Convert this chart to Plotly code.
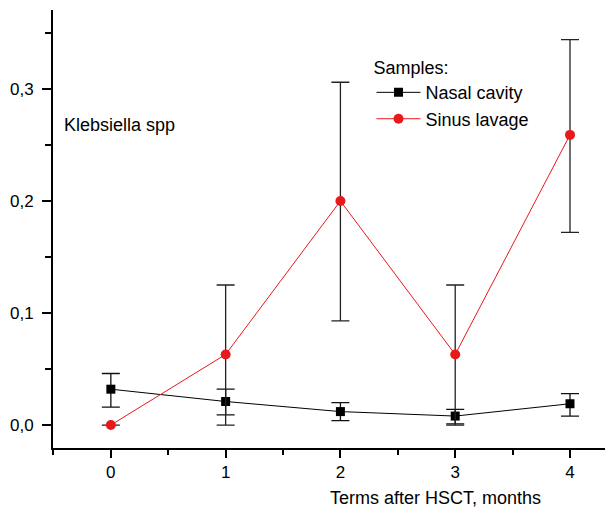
import plotly.graph_objects as go

# Months after HSCT
months = [0, 1, 2, 3, 4]

# Nasal cavity samples: mean and error bounds
nasal_mean = [0.032, 0.021, 0.012, 0.008, 0.019]
nasal_err_plus = [0.014, 0.011, 0.008, 0.006, 0.009]
nasal_err_minus = [0.016, 0.012, 0.008, 0.007, 0.011]

# Sinus lavage samples: mean and error bounds
sinus_mean = [0.0, 0.063, 0.200, 0.063, 0.259]
sinus_err_plus = [0.0, 0.062, 0.106, 0.062, 0.085]
sinus_err_minus = [0.0, 0.063, 0.107, 0.063, 0.087]

y_ticks = [0.0, 0.1, 0.2, 0.3]
x_ticks = [0, 1, 2, 3, 4]

FONT = "Liberation Sans, Arial, sans-serif"

fig = go.Figure()

fig.add_trace(go.Scatter(
    x=months, y=nasal_mean, name="Nasal cavity",
    mode="lines+markers",
    line=dict(color="black", width=1),
    marker=dict(symbol="square", size=9, color="black"),
    error_y=dict(type="data", symmetric=False, array=nasal_err_plus,
                 arrayminus=nasal_err_minus, color="#111111",
                 thickness=1.3, width=9),
))

fig.add_trace(go.Scatter(
    x=months, y=sinus_mean, name="Sinus lavage",
    mode="lines+markers",
    line=dict(color="#e8191c", width=1),
    marker=dict(symbol="circle", size=10, color="#e8191c"),
    error_y=dict(type="data", symmetric=False, array=sinus_err_plus,
                 arrayminus=sinus_err_minus, color="#222222",
                 thickness=1.3, width=9),
))

fig.update_layout(
    width=605, height=509,
    margin=dict(l=53, r=0, t=10, b=61),
    paper_bgcolor="white", plot_bgcolor="white",
    separators=", ",
    font=dict(family=FONT, size=17, color="black"),
    showlegend=True,
    legend=dict(
        title=dict(text="Samples:", font=dict(size=18)),
        x=0.577, y=0.907, xanchor="left", yanchor="top",
        bgcolor="rgba(0,0,0,0)", font=dict(size=18),
        itemwidth=44, tracegroupgap=0,
    ),
    xaxis=dict(
        range=[-0.504, 4.305],
        tickmode="array", tickvals=x_ticks,
        showline=True, linecolor="black", linewidth=2,
        ticks="outside", ticklen=8, tickwidth=2, tickcolor="black",
        minor=dict(dtick=0.5, tick0=0, ticks="outside", ticklen=5,
                   tickwidth=2, tickcolor="black"),
        showgrid=False, zeroline=False,
        tickfont=dict(size=17),
    ),
    yaxis=dict(
        range=[-0.0205, 0.3705],
        tickmode="array", tickvals=y_ticks, tickformat=".1f",
        showline=True, linecolor="black", linewidth=2,
        ticks="outside", ticklen=9, tickwidth=2, tickcolor="black",
        minor=dict(dtick=0.05, tick0=0, ticks="outside", ticklen=6,
                   tickwidth=2, tickcolor="black"),
        showgrid=False, zeroline=False,
        tickfont=dict(size=17),
        ticklabelstandoff=5,
    ),
    annotations=[
        dict(text="Klebsiella spp", xref="paper", yref="paper",
             x=0.016, y=0.737, xanchor="left", yanchor="middle",
             showarrow=False, font=dict(size=18)),
        dict(text="Terms after HSCT, months", xref="paper", yref="paper",
             x=0.693, y=-0.114, xanchor="center", yanchor="middle",
             showarrow=False, font=dict(size=18)),
    ],
)

fig.write_html("out.html")
